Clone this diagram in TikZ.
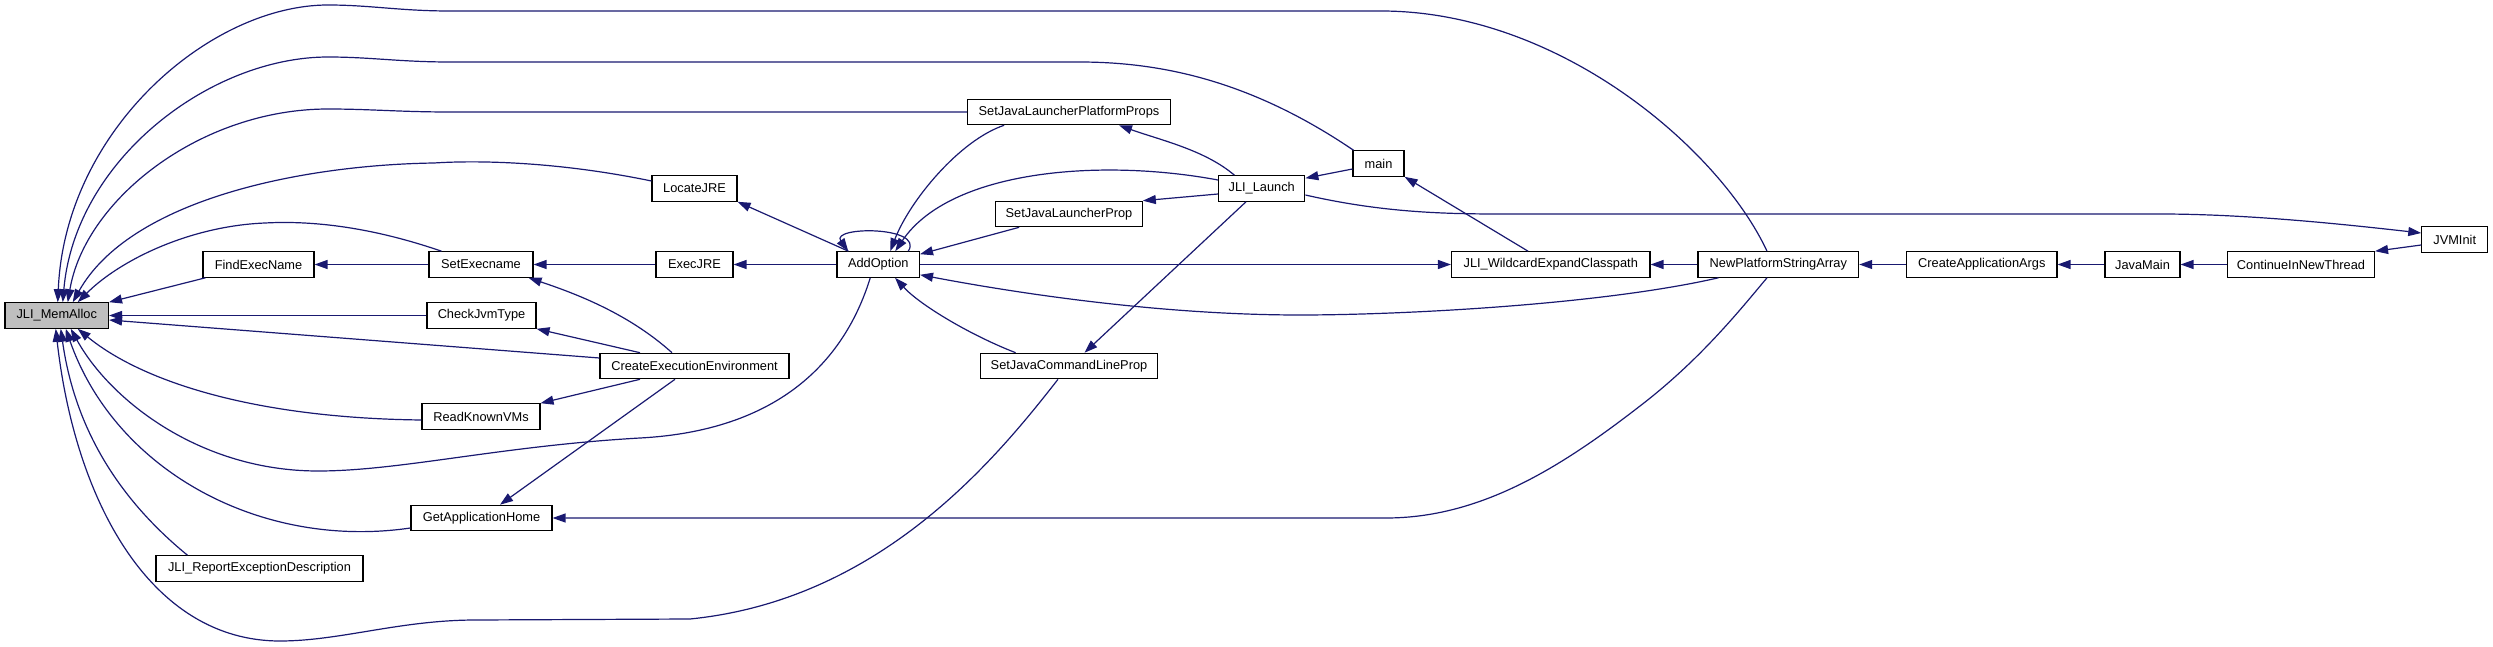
\documentclass[tikz,border=0pt]{standalone}
\usepackage{fontspec}
\setmainfont{Liberation Sans}
\usetikzlibrary{arrows.meta}
\definecolor{edgeblue}{RGB}{25,25,112}
\definecolor{focusgray}{RGB}{191,191,191}
\begin{document}
\begin{tikzpicture}[x=1pt,y=-1pt,
  box/.style={draw=black, line width=1.1pt, fill=white, minimum height=25.5pt, inner sep=0pt,
    font=\fontsize{12.8}{14}\selectfont},
  edge/.style={draw=edgeblue, line width=1.2pt, -{Triangle[length=13pt,width=9pt]}}]
\useasboundingbox (0,0) rectangle (2493,647);
% nodes
\node[box, fill=focusgray, minimum width=103.5pt] (mem) at (56.75,315.5) {JLI\_MemAlloc};
\node[box, minimum width=111pt] (findexec) at (258.5,264.5) {FindExecName};
\node[box, minimum width=104pt] (setexec) at (481,264.5) {SetExecname};
\node[box, minimum width=77pt] (execjre) at (694.5,264.5) {ExecJRE};
\node[box, minimum width=85pt] (locatejre) at (694.5,188.5) {LocateJRE};
\node[box, minimum width=109pt] (checkjvm) at (481.5,315.5) {CheckJvmType};
\node[box, minimum width=189pt] (cee) at (694.5,366) {CreateExecutionEnvironment};
\node[box, minimum width=118pt] (rkv) at (481,416.5) {ReadKnownVMs};
\node[box, minimum width=141pt] (gah) at (481.5,518) {GetApplicationHome};
\node[box, minimum width=207pt] (jred) at (259.5,568.5) {JLI\_ReportExceptionDescription};
\node[box, minimum width=202.7pt] (sjlpp) at (1069,112) {SetJavaLauncherPlatformProps};
\node[box, minimum width=51pt] (main) at (1378.5,163.5) {main};
\node[box, minimum width=86.3pt] (launch) at (1261.7,188.5) {JLI\_Launch};
\node[box, minimum width=146.6pt] (sjlp) at (1069,214) {SetJavaLauncherProp};
\node[box, minimum width=82.5pt] (addopt) at (878.25,264.5) {AddOption};
\node[box, minimum width=198.5pt] (jwec) at (1550.75,264.5) {JLI\_WildcardExpandClasspath};
\node[box, minimum width=177.7pt] (sjclp) at (1069,366) {SetJavaCommandLineProp};
\node[box, minimum width=160.7pt] (npsa) at (1778.3,264.5) {NewPlatformStringArray};
\node[box, minimum width=150.4pt] (caa) at (1981.8,264.5) {CreateApplicationArgs};
\node[box, minimum width=75pt] (javamain) at (2142.5,264.5) {JavaMain};
\node[box, minimum width=147pt] (cint) at (2301,264.5) {ContinueInNewThread};
\node[box, minimum width=65.8pt] (jvminit) at (2454.7,239.5) {JVMInit};
% edges into JLI_MemAlloc from above
\draw[edge] ([xshift=-11.3pt]npsa.north) .. controls (1720,150) and (1560,11) .. (1381,11) -- (450,11)
  .. controls (400,11) and (370,5) .. (328,5) .. controls (210,5) and (65,130) .. ([xshift=1pt]mem.north);
\draw[edge] ([xshift=1pt]main.north west) .. controls (1250,80) and (1160,62) .. (1079,62) -- (450,62)
  .. controls (400,62) and (370,57) .. (328,57) .. controls (210,57) and (75,160) .. ([xshift=6pt]mem.north);
\draw[edge] (sjlpp.west) -- (450,112) .. controls (400,112) and (370,109) .. (328,109)
  .. controls (200,109) and (85,200) .. ([xshift=11pt]mem.north);
\draw[edge] ([yshift=7.5pt]locatejre.west) .. controls (560,162) and (480,160) .. (434,163)
  .. controls (300,165) and (130,200) .. ([xshift=16pt]mem.north);
\draw[edge] ([xshift=13pt]setexec.north west) .. controls (380,230) and (320,220) .. (265,223)
  .. controls (190,226) and (120,260) .. ([xshift=21pt]mem.north);
% edges into JLI_MemAlloc from the right
\draw[edge] ([xshift=3pt]findexec.south west) -- (mem.north east);
\draw[edge] (checkjvm.west) -- (mem.east);
\draw[edge] ([yshift=8pt]cee.west) -- ([yshift=-4.5pt]mem.east);
% edges into JLI_MemAlloc from below
\draw[edge] ([yshift=-3.5pt]rkv.west) .. controls (250,418) and (140,380) .. ([xshift=21pt]mem.south);
\draw[edge] ([xshift=-8pt]addopt.south) .. controls (848,350) and (790,430) .. (640,438)
  .. controls (500,446) and (400,471) .. (318,471) .. controls (200,471) and (110,400) .. ([xshift=14pt]mem.south);
\draw[edge] ([yshift=-10pt]gah.west) .. controls (260,550) and (115,470) .. ([xshift=9pt]mem.south);
\draw[edge] ([xshift=32pt]jred.north west) .. controls (120,500) and (75,430) .. ([xshift=4pt]mem.south);
\draw[edge] ([xshift=-11pt]sjclp.south) .. controls (995,460) and (880,600) .. (690,619) -- (476,620)
  .. controls (400,620) and (340,641) .. (280,641) .. controls (150,641) and (75,500) .. ([xshift=-1pt]mem.south);
% other edges
\draw[edge] (setexec.west) -- (findexec.east);
\draw[edge] (execjre.west) -- (setexec.east);
\draw[edge] (addopt.west) -- (execjre.east);
\draw[edge] ([xshift=12pt]addopt.north west) -- (locatejre.south east);
\draw[edge] ([xshift=-22.5pt]cee.north) .. controls (630,315) and (580,295) .. ([xshift=-5pt]setexec.south east);
\draw[edge] ([xshift=-54.5pt]cee.north) -- (checkjvm.south east);
\draw[edge] ([xshift=-54.5pt]cee.south) -- (rkv.north east);
\draw[edge] ([xshift=-19.5pt]cee.south) -- ([xshift=18.5pt]gah.north);
\draw[edge] ([xshift=30pt]addopt.north) .. controls (925,226) and (830,226) .. ([xshift=-30pt]addopt.north);
\draw[edge] ([xshift=37pt]sjlpp.south west) .. controls (960,140) and (910,200) .. ([xshift=12pt]addopt.north);
\draw[edge] ([yshift=8.5pt]launch.west) .. controls (1100,158) and (950,170) .. ([xshift=17pt]addopt.north);
\draw[edge] ([xshift=24pt]sjlp.south west) -- ([yshift=-3pt]addopt.north east);
\draw[edge] ([xshift=16.4pt]launch.north west) .. controls (1205,150) and (1160,140) .. ([xshift=50pt]sjlpp.south);
\draw[edge] ([yshift=-5.5pt]launch.west) -- (sjlp.north east);
\draw[edge] ([yshift=-5.5pt]main.west) -- ([yshift=-3pt]launch.north east);
\draw[edge] ([xshift=-22.7pt]jwec.north) -- (main.south east);
\draw[edge] ([yshift=-6.5pt]launch.east) .. controls (1380,212) and (1440,214) .. (1500,214) -- (2160,214)
  .. controls (2250,214) and (2350,225) .. ([yshift=6.5pt]jvminit.west);
\draw[edge] ([xshift=-15.7pt]launch.south) -- ([xshift=15.5pt]sjclp.north);
\draw[edge] ([xshift=36pt]sjclp.north west) .. controls (970,335) and (920,305) .. ([xshift=-25pt]addopt.south east);
\draw[edge] (addopt.east) -- (jwec.west);
\draw[edge] ([xshift=21pt]npsa.south west) .. controls (1600,305) and (1400,315) .. (1300,315)
  .. controls (1150,315) and (1000,290) .. ([yshift=3pt]addopt.south east);
\draw[edge] (npsa.west) -- (jwec.east);
\draw[edge] (caa.west) -- (npsa.east);
\draw[edge] (javamain.west) -- (caa.east);
\draw[edge] (cint.west) -- (javamain.east);
\draw[edge] ([yshift=-5.5pt]jvminit.west) -- (cint.north east);
\draw[edge] ([xshift=-11.3pt]npsa.south) .. controls (1740,310) and (1700,360) .. (1640,406)
  .. controls (1560,468) and (1480,518) .. (1386,518) -- (gah.east);
\end{tikzpicture}
\end{document}
